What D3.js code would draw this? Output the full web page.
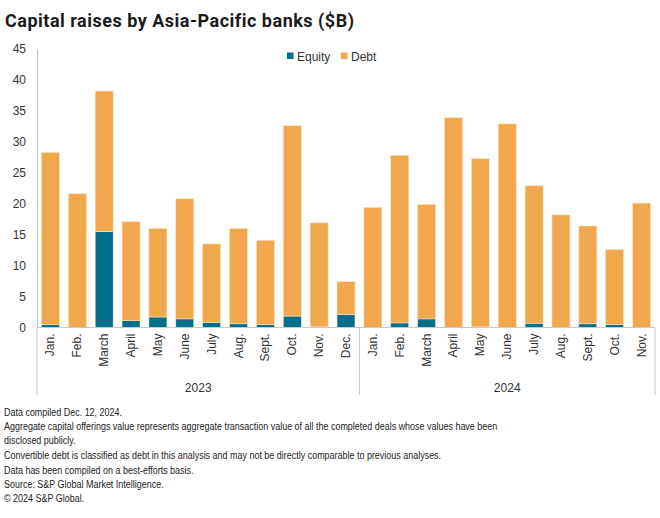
<!DOCTYPE html>
<html>
<head>
<meta charset="utf-8">
<script src="https://cdn.jsdelivr.net/npm/d3@7"></script>
<style>
  body { margin: 0; background: #fff; }
  svg { display: block; }
</style>
</head>
<body>
<svg id="chart"></svg>
<script>
const months = ["Jan.", "Feb.", "March", "April", "May", "June", "July", "Aug.", "Sept.", "Oct.", "Nov.", "Dec.",
                "Jan.", "Feb.", "March", "April", "May", "June", "July", "Aug.", "Sept.", "Oct.", "Nov."];
const years = ["2023", "2024"];
const yearCounts = [12, 11];
// totals, equity is the teal part at the bottom
const totals = [28.3, 21.6, 38.2, 17.1, 16.0, 20.8, 13.5, 16.0, 14.1, 32.6, 16.9, 7.4,
                19.4, 27.8, 19.9, 33.9, 27.3, 32.9, 22.9, 18.2, 16.4, 12.6, 20.1];
const equity = [0.45, 0, 15.5, 1.1, 1.7, 1.4, 0.8, 0.6, 0.45, 1.85, 0.1, 2.1,
                0, 0.75, 1.4, 0, 0.1, 0, 0.7, 0, 0.6, 0.45, 0];
const debt = totals.map((t, i) => +(t - equity[i]).toFixed(2));
const seriesNames = ["Equity", "Debt"];
const colors = { Equity: "#00708a", Debt: "#f1a74b" };
const yTicks = [0, 5, 10, 15, 20, 25, 30, 35, 40, 45];
const notes = [
  "Data compiled Dec. 12, 2024.",
  "Aggregate capital offerings value represents aggregate transaction value of all the completed deals whose values have been",
  "disclosed publicly.",
  "Convertible debt is classified as debt in this analysis and may not be directly comparable to previous analyses.",
  "Data has been compiled on a best-efforts basis.",
  "Source: S&P Global Market Intelligence.",
  "\u00a9 2024 S&P Global."
];

const width = 660, height = 518;
const plotLeft = 37, plotRight = 655, plotTop = 49, plotBottom = 327.5;
const axisFont = "'Liberation Sans', Arial, sans-serif";
const noteFont = "'Liberation Sans', Arial, sans-serif";

const svg = d3.select("#chart").attr("width", width).attr("height", height);

svg.append("text")
  .attr("x", 5).attr("y", 27)
  .style("font-family", "Roboto, 'Liberation Sans', sans-serif")
  .style("font-weight", "bold")
  .style("font-size", "18px")
  .style("letter-spacing", "0.5px")
  .style("fill", "#1a1a1a")
  .text("Capital raises by Asia-Pacific banks ($B)");

const rows = months.map((m, i) => ({ i, Equity: equity[i], Debt: debt[i] }));

const x = d3.scaleBand()
  .domain(d3.range(months.length))
  .range([plotLeft, plotRight])
  .paddingInner(0.33)
  .paddingOuter(0.165);

const y = d3.scaleLinear().domain([0, 45]).range([plotBottom, plotTop]);

const stack = d3.stack().keys(seriesNames)(rows);

svg.append("g").selectAll("g")
  .data(stack)
  .join("g")
    .attr("fill", d => colors[d.key])
  .selectAll("rect")
  .data(d => d.filter(p => p[1] - p[0] > 0))
  .join("rect")
    .attr("x", d => x(d.data.i))
    .attr("y", d => y(d[1]))
    .attr("width", x.bandwidth())
    .attr("height", d => y(d[0]) - y(d[1]))
    .attr("stroke", "#fbe3c6")
    .attr("stroke-width", 0.6);

// y axis
const yAxis = svg.append("g")
  .attr("transform", `translate(${plotLeft},0)`)
  .call(d3.axisLeft(y).tickValues(yTicks).tickSize(0).tickPadding(11));
yAxis.select(".domain").attr("stroke", "#bfbfbf");
yAxis.selectAll("text")
  .style("font-family", axisFont).style("font-size", "12px").attr("fill", "#333");

// baseline
svg.append("line")
  .attr("x1", plotLeft).attr("x2", plotRight)
  .attr("y1", y(0)).attr("y2", y(0))
  .attr("stroke", "#c8c8c8");

// month labels
svg.append("g").selectAll("text")
  .data(months)
  .join("text")
    .attr("transform", (d, i) => `translate(${x(i) + x.bandwidth() / 2 + 4},${plotBottom + 6}) rotate(-90)`)
    .attr("text-anchor", "end")
    .style("font-family", axisFont).style("font-size", "12px")
    .attr("fill", "#333")
    .text(d => d);

// year group boxes
let start = 0;
const bounds = [plotLeft];
yearCounts.forEach(c => { start += c; bounds.push(plotLeft + x.step() * start); });
bounds[bounds.length - 1] = plotRight;
svg.append("g").selectAll("line")
  .data(bounds)
  .join("line")
    .attr("x1", d => d).attr("x2", d => d)
    .attr("y1", plotBottom).attr("y2", 395)
    .attr("stroke", "#c8c8c8");

svg.append("g").selectAll("text")
  .data(years)
  .join("text")
    .attr("x", (d, i) => (bounds[i] + bounds[i + 1]) / 2)
    .attr("y", 392)
    .attr("text-anchor", "middle")
    .style("font-family", axisFont).style("font-size", "12px")
    .attr("fill", "#333")
    .text(d => d);

// legend
const legend = svg.append("g");
const legendX = [287, 341];
seriesNames.forEach((s, i) => {
  legend.append("rect")
    .attr("x", legendX[i]).attr("y", 52.5)
    .attr("width", 6.5).attr("height", 6.5)
    .attr("fill", colors[s]);
  legend.append("text")
    .attr("x", legendX[i] + 10).attr("y", 60.5)
    .style("font-family", axisFont).style("font-size", "12px")
    .attr("fill", "#333")
    .text(s);
});

// notes (the original uses a narrow face, squeeze horizontally)
svg.append("g")
  .attr("transform", "translate(4,0) scale(0.78,1)")
  .selectAll("text")
  .data(notes)
  .join("text")
    .attr("x", 0)
    .attr("y", (d, i) => [416.5, 430.5, 444, 459, 474.5, 488, 502][i])
    .style("font-family", noteFont).style("font-size", "11.5px")
    .attr("fill", "#222")
    .text(d => d);
</script>
</body>
</html>
